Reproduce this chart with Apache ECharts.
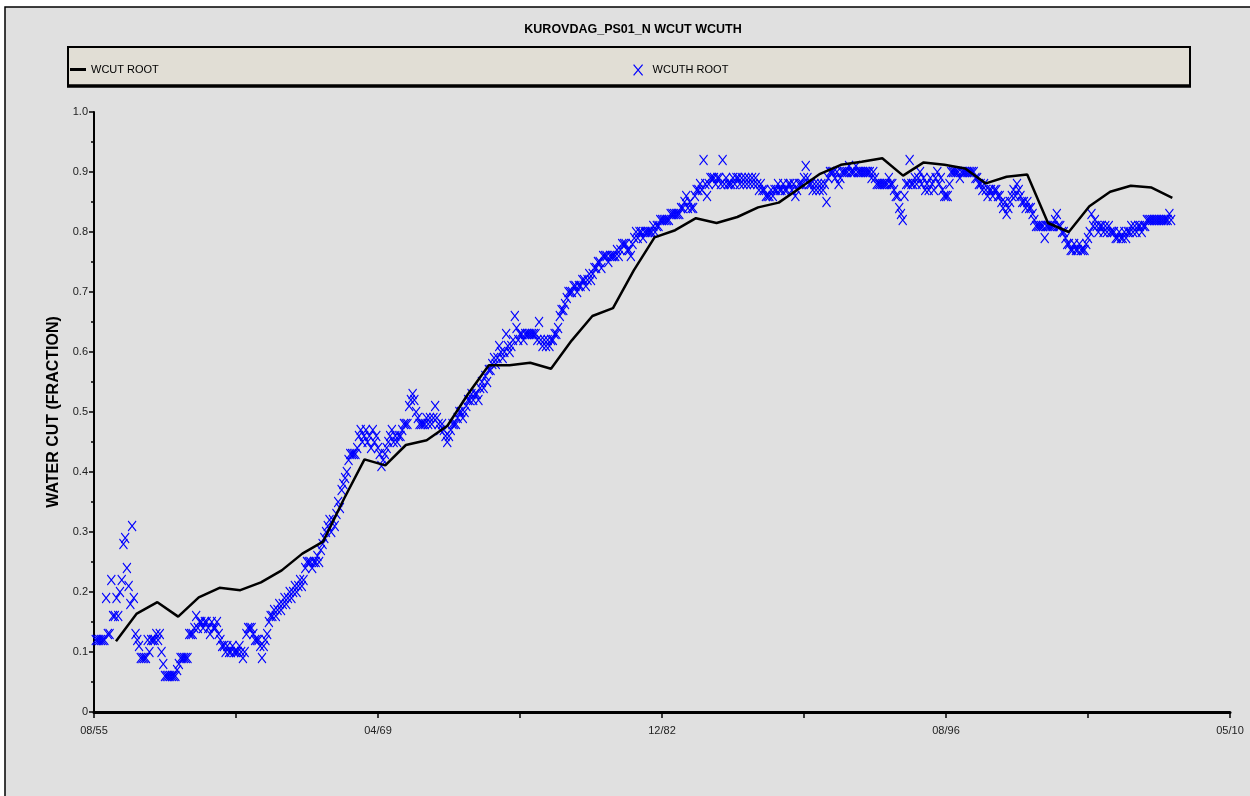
<!DOCTYPE html>
<html>
<head>
<meta charset="utf-8">
<script src="https://cdn.jsdelivr.net/npm/echarts@6/dist/echarts.min.js"></script>
<style>
  html, body { margin: 0; padding: 0; background: #ffffff; }
  #chart { width: 1250px; height: 796px; }
</style>
</head>
<body>
<div id="chart"></div>
<script>
// ---------------- DATA ----------------
const chartTitle = 'KUROVDAG_PS01_N WCUT WCUTH';
const yAxisTitle = 'WATER CUT (FRACTION)';
const seriesNames = ['WCUT ROOT', 'WCUTH ROOT'];

// x axis: months elapsed since 08/55; labelled ticks every 164 months
const xTickLabels = ['08/55', '04/69', '12/82', '08/96', '05/10'];
const xTickStep = 164;

// WCUT ROOT (simulated), yearly points: month offset and value
const wcutMonths = [12.7, 24.7, 36.6, 48.6, 60.5, 72.5, 84.5, 96.4, 108.4, 120.3,
  132.3, 144.3, 156.2, 168.2, 180.1, 192.1, 204.1, 216.0, 228.0, 239.9,
  251.9, 263.9, 275.8, 287.8, 299.7, 311.7, 323.7, 335.6, 347.6, 359.5,
  371.5, 383.5, 395.4, 407.4, 419.3, 431.3, 443.3, 455.2, 467.2, 479.1,
  491.1, 503.1, 515.0, 527.0, 538.9, 550.9, 562.9, 574.8, 586.8, 598.7,
  610.7, 622.7];
const wcutValues = [0.118, 0.164, 0.183, 0.159, 0.191, 0.207, 0.203, 0.216, 0.236, 0.264,
  0.284, 0.355, 0.421, 0.411, 0.445, 0.453, 0.477, 0.530, 0.578, 0.578,
  0.582, 0.572, 0.619, 0.660, 0.673, 0.736, 0.791, 0.803, 0.823, 0.815,
  0.825, 0.841, 0.849, 0.873, 0.897, 0.912, 0.917, 0.923, 0.894, 0.916,
  0.912, 0.906, 0.881, 0.892, 0.896, 0.815, 0.800, 0.843, 0.867, 0.877,
  0.874, 0.857];

// WCUTH ROOT (history), monthly values starting at month 1 (one row = 12 months)
const wcuthFirstMonth = 1;
const wcuthValues = [
  0.12,0.12,0.12,0.12,0.12,0.12,0.19,0.13,0.13,0.22,0.16,0.16,
  0.19,0.16,0.20,0.22,0.28,0.29,0.24,0.21,0.18,0.31,0.19,0.13,
  0.12,0.11,0.09,0.09,0.09,0.09,0.12,0.10,0.12,0.12,0.12,0.13,
  0.12,0.13,0.10,0.08,0.06,0.06,0.06,0.06,0.06,0.06,0.06,0.07,
  0.08,0.09,0.09,0.09,0.09,0.09,0.13,0.13,0.13,0.14,0.16,0.14,
  0.15,0.15,0.14,0.15,0.15,0.14,0.13,0.15,0.14,0.14,0.15,0.13,
  0.12,0.11,0.11,0.10,0.11,0.10,0.10,0.11,0.10,0.10,0.10,0.11,
  0.10,0.09,0.10,0.13,0.14,0.14,0.14,0.13,0.12,0.12,0.12,0.11,
  0.09,0.11,0.12,0.13,0.15,0.16,0.16,0.17,0.16,0.17,0.18,0.17,
  0.18,0.19,0.18,0.19,0.20,0.19,0.20,0.21,0.20,0.21,0.22,0.21,
  0.22,0.24,0.25,0.25,0.25,0.24,0.25,0.25,0.26,0.25,0.27,0.28,
  0.29,0.30,0.31,0.32,0.30,0.32,0.31,0.33,0.35,0.34,0.37,0.38,
  0.39,0.40,0.42,0.43,0.43,0.43,0.43,0.44,0.46,0.47,0.45,0.46,
  0.47,0.45,0.46,0.44,0.47,0.45,0.46,0.44,0.43,0.41,0.42,0.43,
  0.44,0.45,0.46,0.47,0.45,0.46,0.45,0.46,0.46,0.47,0.48,0.48,
  0.48,0.51,0.52,0.53,0.52,0.50,0.49,0.48,0.48,0.48,0.48,0.49,
  0.48,0.49,0.48,0.49,0.51,0.49,0.48,0.47,0.48,0.47,0.46,0.45,
  0.46,0.47,0.48,0.48,0.48,0.49,0.50,0.50,0.49,0.50,0.51,0.52,
  0.52,0.53,0.52,0.53,0.53,0.52,0.54,0.55,0.54,0.56,0.55,0.57,
  0.57,0.58,0.59,0.58,0.59,0.61,0.60,0.59,0.60,0.63,0.61,0.60,
  0.61,0.62,0.66,0.64,0.62,0.63,0.63,0.62,0.63,0.63,0.63,0.63,
  0.63,0.63,0.63,0.62,0.65,0.62,0.61,0.62,0.61,0.62,0.61,0.62,
  0.62,0.63,0.63,0.64,0.66,0.67,0.67,0.68,0.69,0.70,0.70,0.70,
  0.71,0.71,0.70,0.71,0.71,0.72,0.72,0.71,0.72,0.73,0.72,0.73,
  0.74,0.74,0.75,0.75,0.74,0.76,0.76,0.76,0.75,0.76,0.76,0.76,
  0.76,0.77,0.76,0.77,0.78,0.78,0.78,0.77,0.77,0.76,0.78,0.79,
  0.80,0.79,0.80,0.80,0.79,0.80,0.80,0.80,0.80,0.80,0.81,0.80,
  0.81,0.81,0.82,0.82,0.82,0.82,0.82,0.82,0.83,0.83,0.83,0.83,
  0.83,0.83,0.84,0.84,0.85,0.86,0.84,0.85,0.84,0.84,0.86,0.87,
  0.87,0.88,0.87,0.92,0.88,0.86,0.88,0.89,0.89,0.89,0.88,0.89,
  0.89,0.88,0.92,0.88,0.89,0.88,0.88,0.88,0.89,0.88,0.89,0.89,
  0.88,0.89,0.88,0.89,0.88,0.89,0.88,0.89,0.88,0.89,0.88,0.87,
  0.88,0.87,0.87,0.86,0.86,0.86,0.87,0.86,0.87,0.87,0.88,0.87,
  0.87,0.88,0.87,0.87,0.88,0.88,0.87,0.88,0.86,0.87,0.88,0.88,
  0.88,0.89,0.91,0.89,0.88,0.88,0.87,0.88,0.87,0.88,0.87,0.88,
  0.87,0.88,0.85,0.89,0.90,0.90,0.90,0.89,0.90,0.88,0.89,0.90,
  0.90,0.90,0.90,0.91,0.90,0.90,0.90,0.91,0.90,0.90,0.90,0.90,
  0.90,0.90,0.90,0.90,0.89,0.90,0.89,0.88,0.88,0.88,0.88,0.88,
  0.88,0.88,0.89,0.88,0.88,0.87,0.86,0.86,0.84,0.83,0.82,0.86,
  0.88,0.88,0.92,0.88,0.88,0.89,0.88,0.89,0.90,0.88,0.89,0.87,
  0.88,0.87,0.89,0.88,0.87,0.89,0.90,0.88,0.89,0.87,0.86,0.86,
  0.86,0.88,0.90,0.90,0.90,0.90,0.90,0.89,0.90,0.90,0.90,0.90,
  0.90,0.90,0.90,0.90,0.89,0.89,0.88,0.88,0.87,0.88,0.87,0.86,
  0.87,0.87,0.86,0.87,0.87,0.86,0.86,0.85,0.84,0.85,0.83,0.84,
  0.85,0.86,0.87,0.86,0.88,0.87,0.86,0.85,0.85,0.84,0.85,0.84,
  0.84,0.83,0.82,0.81,0.81,0.81,0.81,0.81,0.79,0.81,0.81,0.81,
  0.81,0.81,0.82,0.83,0.81,0.81,0.80,0.80,0.79,0.78,0.78,0.77,
  0.77,0.78,0.77,0.77,0.78,0.77,0.77,0.77,0.78,0.79,0.80,0.83,
  0.81,0.82,0.81,0.80,0.81,0.81,0.80,0.81,0.80,0.81,0.80,0.80,
  0.80,0.79,0.79,0.80,0.79,0.79,0.80,0.79,0.80,0.80,0.81,0.80,
  0.81,0.80,0.81,0.81,0.80,0.81,0.81,0.82,0.82,0.82,0.82,0.82,
  0.82,0.82,0.82,0.82,0.82,0.82,0.82,0.82,0.83,0.82
];

// ---------------- CHART ----------------
const FONT = "'Liberation Sans', Arial, sans-serif";
const X_MARK = 'path://M0,0L10,12M10,0L0,12';

const wcutData = wcutMonths.map((m, i) => [m, wcutValues[i]]);
const wcuthData = wcuthValues.map((v, i) => [wcuthFirstMonth + i, v]);

const chart = echarts.init(document.getElementById('chart'), null, { renderer: 'canvas' });

const option = {
  animation: false,
  backgroundColor: '#ffffff',
  title: {
    text: chartTitle,
    left: 628,
    textAlign: 'center',
    top: 18,
    textStyle: { fontFamily: FONT, fontSize: 12.5, fontWeight: 'bold', color: '#000' }
  },
  graphic: [
    { type: 'rect', z: -100, silent: true,
      shape: { x: 5, y: 7, width: 1260, height: 800 },
      style: { fill: '#e0e0e0', stroke: '#000', lineWidth: 1.5 } },
    { type: 'rect', z: -90, silent: true,
      shape: { x: 68, y: 47, width: 1122, height: 39 },
      style: { fill: '#e1ded5', stroke: '#000', lineWidth: 2 } },
    { type: 'line', z: -89, silent: true,
      shape: { x1: 67, y1: 86, x2: 1191, y2: 86 },
      style: { stroke: '#000', lineWidth: 3.5 } }
  ],
  legend: [
    {
      data: [{ name: seriesNames[0], icon: 'rect', itemStyle: { color: '#000' } }],
      left: 65, top: 59, itemWidth: 16, itemHeight: 3, itemGap: 0,
      textStyle: { fontFamily: FONT, fontSize: 11, color: '#000' }
    },
    {
      data: [{ name: seriesNames[1], icon: X_MARK,
               itemStyle: { color: 'rgba(0,0,0,0)', borderColor: '#0000ff', borderWidth: 1.2 } }],
      left: 628, top: 59, itemWidth: 9, itemHeight: 11, itemGap: 0,
      textStyle: { fontFamily: FONT, fontSize: 11, color: '#000', padding: [0, 0, 0, 5] }
    }
  ],
  grid: { left: 94, right: 20, top: 112, bottom: 84, containLabel: false },
  xAxis: {
    type: 'value',
    min: 0,
    max: xTickStep * (xTickLabels.length - 1),
    interval: xTickStep,
    axisLine: { show: true, onZero: false, lineStyle: { color: '#000', width: 3 } },
    axisTick: { show: true, length: 6, lineStyle: { color: '#000', width: 1.5 } },
    minorTick: { show: true, splitNumber: 2, length: 6, lineStyle: { color: '#000', width: 1.5 } },
    splitLine: { show: false },
    axisLabel: {
      show: true, showMinLabel: true, showMaxLabel: true, margin: 13,
      fontFamily: FONT, fontSize: 11, color: '#222',
      formatter: v => xTickLabels[Math.round(v / xTickStep)] || ''
    }
  },
  yAxis: {
    type: 'value',
    min: 0, max: 1, interval: 0.1,
    name: yAxisTitle,
    nameLocation: 'middle',
    nameGap: 24,
    nameTextStyle: { fontFamily: FONT, fontSize: 16, fontWeight: 'bold', color: '#000' },
    axisLine: { show: true, onZero: false, lineStyle: { color: '#000', width: 2 } },
    axisTick: { show: true, length: 5, lineStyle: { color: '#000', width: 1.5 } },
    minorTick: { show: true, splitNumber: 2, length: 3, lineStyle: { color: '#000', width: 1.5 } },
    splitLine: { show: false },
    axisLabel: {
      margin: 6, fontFamily: FONT, fontSize: 11, color: '#222',
      formatter: v => (v === 0 ? '0' : v.toFixed(1))
    }
  },
  series: [
    {
      name: seriesNames[1],
      type: 'scatter',
      data: wcuthData,
      symbol: X_MARK,
      symbolSize: [8, 10],
      itemStyle: { color: 'rgba(0,0,0,0)', borderColor: '#0000ff', borderWidth: 1.1, opacity: 1 },
      z: 2
    },
    {
      name: seriesNames[0],
      type: 'line',
      data: wcutData,
      symbol: 'none',
      lineStyle: { color: '#000', width: 2.5 },
      itemStyle: { color: '#000' },
      z: 3
    }
  ]
};

chart.setOption(option);
</script>
</body>
</html>
